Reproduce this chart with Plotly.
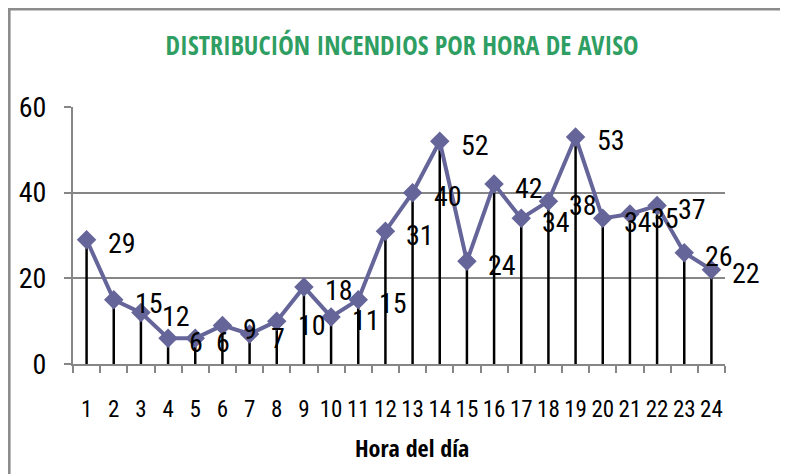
import plotly.graph_objects as go

# Incendios por hora de aviso
horas = list(range(1, 25))
incendios = [29, 15, 12, 6, 6, 9, 7, 10, 18, 11, 15, 31,
             40, 52, 24, 42, 34, 38, 53, 34, 35, 37, 26, 22]

font_narrow = "Roboto Condensed, DejaVu Sans Condensed, sans-serif"
font_bold = "Open Sans Condensed, Roboto Condensed, sans-serif"
gris = "#868686"
morado = "#65659A"

fig = go.Figure()

fig.add_trace(go.Scatter(
    x=horas,
    y=incendios,
    mode="lines+markers",
    line=dict(color=morado, width=4),
    marker=dict(symbol="diamond", size=15, color=morado),
    error_y=dict(type="data", symmetric=False, array=[0] * len(incendios),
                 arrayminus=incendios, color="black", thickness=2.5, width=0),
    cliponaxis=False,
    showlegend=False,
))

# etiquetas de datos (a la derecha de cada punto)
for h, v in zip(horas, incendios):
    fig.add_annotation(x=h, y=v, text=str(v), showarrow=False,
                       xanchor="left", yanchor="middle", xshift=19, yshift=-4,
                       font=dict(family=font_narrow, size=28, color="black"))

fig.add_annotation(x=0.52, y=-0.323, xref="paper", yref="paper",
                   text="<b>Hora del día</b>", showarrow=False,
                   xanchor="center", yanchor="middle",
                   font=dict(family=font_bold, size=24, color="black"))

# marcas del eje x entre categorías
bordes = [h - 0.5 for h in horas] + [horas[-1] + 0.5]

fig.update_layout(
    width=788, height=474,
    margin=dict(l=65, r=71, t=99, b=118),
    paper_bgcolor="white", plot_bgcolor="white",
    title=dict(text="<b>DISTRIBUCIÓN INCENDIOS POR HORA DE AVISO</b>",
               font=dict(family=font_bold, size=26, color="#2F9E62"),
               x=0.5, xanchor="center", y=0.92, yanchor="middle"),
    xaxis=dict(range=[bordes[0], bordes[-1]], tickvals=horas, ticks="",
               showline=True, linecolor=gris, linewidth=2,
               showgrid=False, zeroline=False, automargin=False,
               ticklabelstandoff=23,
               minor=dict(tickvals=bordes, ticks="outside", ticklen=7,
                          tickcolor=gris, tickwidth=2, showgrid=False),
               tickfont=dict(family=font_narrow, size=23, color="black")),
    yaxis=dict(range=[0, 60], tickvals=[0, 20, 40, 60], ticks="outside",
               ticklen=7, tickcolor=gris, tickwidth=2,
               showline=True, linecolor=gris, linewidth=2,
               showgrid=True, gridcolor=gris, gridwidth=2, zeroline=False,
               automargin=False, ticklabelstandoff=12,
               tickfont=dict(family=font_narrow, size=28, color="black")),
    shapes=[dict(type="rect", xref="paper", yref="paper",
                 x0=-0.098, x1=1.2, y0=-0.6, y1=1.381,
                 line=dict(color="#8C8C8C", width=3), layer="below")],
)

fig.write_html("out.html")
